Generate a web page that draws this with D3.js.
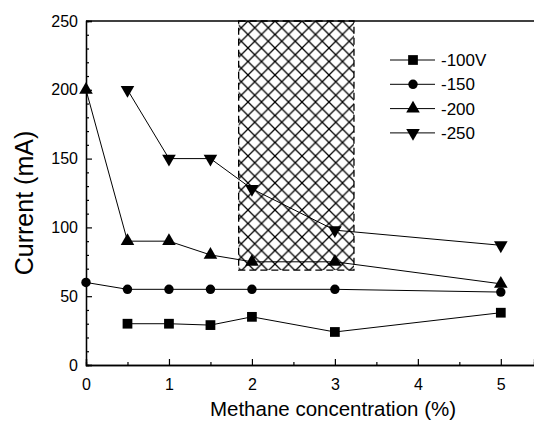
<!DOCTYPE html>
<html>
<head>
<meta charset="utf-8">
<script src="https://cdn.jsdelivr.net/npm/d3@7"></script>
<style>
  body { margin: 0; background: #fff; }
  svg { display: block; font-family: "Liberation Sans", Arial, sans-serif; }
</style>
</head>
<body>
<div id="chart"></div>
<script>
// methane concentration (%) and current (mA)
var seriesNames = ["-100V", "-150", "-200", "-250"];
var x100 = [0.5, 1, 1.5, 2, 3, 5];
var y100 = [30, 30, 29, 35, 24, 38];
var x150 = [0, 0.5, 1, 1.5, 2, 3, 5];
var y150 = [60, 55, 55, 55, 55, 55, 53];
var x200 = [0, 0.5, 1, 1.5, 2, 3, 5];
var y200 = [200, 90, 90, 80, 75, 75, 59];
var x250 = [0.5, 1, 1.5, 2, 3, 5];
var y250 = [200, 150, 150, 128, 98, 87];
var hatchX = [1.84, 3.23];
var hatchY = [69, 250];
var xTicks = [0, 1, 2, 3, 4, 5];
var yTicks = [0, 50, 100, 150, 200, 250];

var margin = {top: 21, right: 0, bottom: 62, left: 86};
var width = 534 - margin.left - margin.right;
var height = 427 - margin.top - margin.bottom;

var svg = d3.select("#chart")
    .append("svg")
    .attr("width", 534)
    .attr("height", 427);

var defs = svg.append("defs");
var pat = defs.append("pattern")
    .attr("id", "hatch")
    .attr("patternUnits", "userSpaceOnUse")
    .attr("width", 13.5)
    .attr("height", 13.5);
pat.append("path")
    .attr("d", "M0,0L13.5,13.5M13.5,0L0,13.5")
    .attr("stroke", "#000")
    .attr("stroke-width", 1.3);

var g = svg.append("g")
    .attr("transform", "translate(" + margin.left + "," + margin.top + ")");

var xScale = d3.scaleLinear().domain([0, 5.4]).range([0, width]);
var yScale = d3.scaleLinear().domain([0, 250]).range([height, 0]);

// hatched region
g.append("rect")
    .attr("x", xScale(hatchX[0]))
    .attr("y", yScale(hatchY[1]))
    .attr("width", xScale(hatchX[1]) - xScale(hatchX[0]))
    .attr("height", yScale(hatchY[0]) - yScale(hatchY[1]))
    .attr("fill", "url(#hatch)")
    .attr("stroke", "#000")
    .attr("stroke-width", 1.3)
    .attr("stroke-dasharray", "7,4");

// axes with inward ticks
g.append("g")
    .attr("transform", "translate(0," + height + ")")
    .call(d3.axisBottom(xScale).tickValues(xTicks).tickSize(-6).tickPadding(14).tickFormat(d3.format("d")));
g.append("g")
    .attr("transform", "translate(0," + height + ")")
    .call(d3.axisBottom(xScale).tickValues(d3.range(0.5, 5.4, 1)).tickSize(-3).tickFormat(""));
g.append("g")
    .call(d3.axisLeft(yScale).tickValues(yTicks).tickSize(-6).tickPadding(8));
g.append("g")
    .call(d3.axisLeft(yScale).tickValues(d3.range(10, 250, 10).filter(d => d % 50 !== 0)).tickSize(-3).tickFormat(""));

g.selectAll(".domain").attr("stroke", "#000").attr("stroke-width", 1.3);
g.selectAll(".tick line").attr("stroke", "#000").attr("stroke-width", 1.2);
g.selectAll(".tick text").style("font-size", "16px").attr("fill", "#000");

// top frame
g.append("line")
    .attr("x1", 0).attr("x2", width)
    .attr("y1", 0).attr("y2", 0)
    .attr("stroke", "#000")
    .attr("stroke-width", 1.3);

svg.append("text")
    .attr("transform", "translate(33,203) rotate(-90)")
    .style("text-anchor", "middle")
    .style("font-size", "25px")
    .text("Current (mA)");

svg.append("text")
    .attr("x", 333)
    .attr("y", 416)
    .style("text-anchor", "middle")
    .style("font-size", "20.5px")
    .text("Methane concentration (%)");

var series = [
    {name: seriesNames[0], xs: x100, ys: y100, shape: d3.symbolSquare, size: 95, rot: 0},
    {name: seriesNames[1], xs: x150, ys: y150, shape: d3.symbolCircle, size: 70, rot: 0},
    {name: seriesNames[2], xs: x200, ys: y200, shape: d3.symbolTriangle, size: 80, rot: 0},
    {name: seriesNames[3], xs: x250, ys: y250, shape: d3.symbolTriangle, size: 80, rot: 180}
];

var line = d3.line()
    .x(function(d) { return xScale(d[0]) })
    .y(function(d) { return yScale(d[1]) });

for (var i = 0; i < series.length; i++) {
    var s = series[i];
    var pts = s.xs.map(function(v, k) { return [v, s.ys[k]] });
    g.append("path")
        .datum(pts)
        .attr("fill", "none")
        .attr("stroke", "#000")
        .attr("stroke-width", 1)
        .attr("d", line);
    var sym = d3.symbol().type(s.shape).size(s.size);
    g.selectAll(".m" + i)
        .data(pts)
        .enter().append("path")
        .attr("class", "m" + i)
        .attr("transform", function(d) {
            return "translate(" + xScale(d[0]) + "," + yScale(d[1]) + ") rotate(" + s.rot + ")";
        })
        .attr("d", sym)
        .attr("fill", "#000");
}

// legend
var legend = svg.selectAll(".legend")
    .data(series)
    .enter().append("g")
    .attr("class", "legend")
    .attr("transform", function(d, i) { return "translate(390," + (60 + i * 24.3) + ")" });

legend.append("line")
    .attr("x1", 0).attr("x2", 45)
    .attr("stroke", "#000")
    .attr("stroke-width", 1);

legend.append("path")
    .attr("transform", function(d) { return "translate(23,0) rotate(" + d.rot + ")" })
    .attr("d", function(d) { return d3.symbol().type(d.shape).size(d.size)() })
    .attr("fill", "#000");

legend.append("text")
    .attr("x", 51)
    .attr("dy", "0.36em")
    .style("font-size", "17px")
    .text(function(d) { return d.name });
</script>
</body>
</html>
